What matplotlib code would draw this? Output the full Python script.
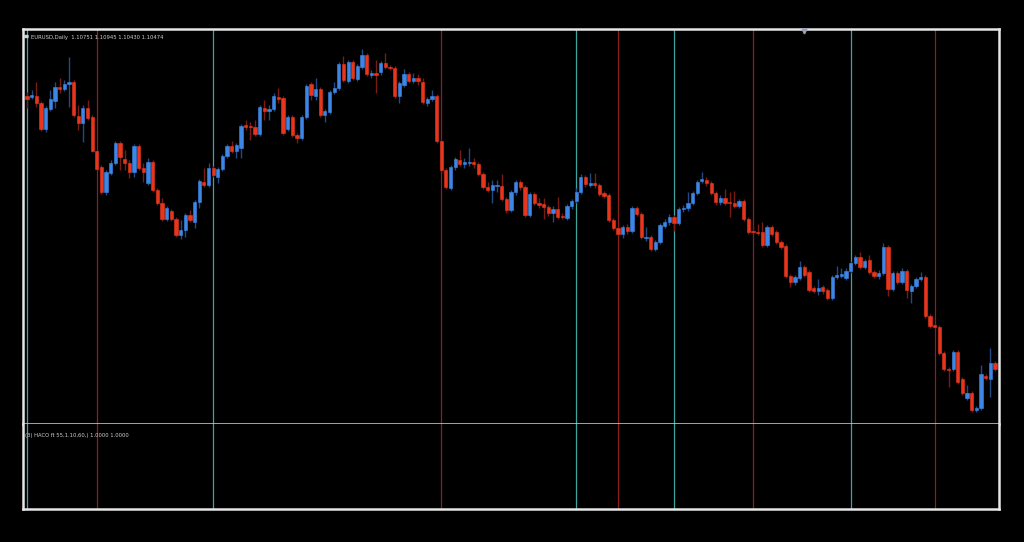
import matplotlib
matplotlib.use("Agg")
import matplotlib.pyplot as plt
import numpy as np

# EURUSD diario - velas (open, high, low, close)
opens = [
    1.1321, 1.1320, 1.1321, 1.1314, 1.1288, 1.1308, 1.1316, 1.1330, 1.1328, 1.1333,
    1.1335, 1.1301, 1.1294, 1.1309, 1.1300, 1.1266, 1.1250, 1.1225, 1.1244, 1.1254,
    1.1274, 1.1258, 1.1254, 1.1245, 1.1271, 1.1249, 1.1234, 1.1255, 1.1227, 1.1214,
    1.1198, 1.1206, 1.1198, 1.1182, 1.1187, 1.1202, 1.1195, 1.1215, 1.1235, 1.1232,
    1.1249, 1.1240, 1.1248, 1.1261, 1.1271, 1.1266, 1.1269, 1.1292, 1.1291, 1.1290,
    1.1283, 1.1309, 1.1306, 1.1308, 1.1320, 1.1319, 1.1288, 1.1300, 1.1282, 1.1279,
    1.1300, 1.1333, 1.1321, 1.1328, 1.1302, 1.1305, 1.1325, 1.1329, 1.1353, 1.1336,
    1.1355, 1.1338, 1.1350, 1.1362, 1.1342, 1.1344, 1.1345, 1.1354, 1.1350, 1.1349,
    1.1321, 1.1332, 1.1343, 1.1336, 1.1339, 1.1335, 1.1314, 1.1318, 1.1321, 1.1276,
    1.1247, 1.1229, 1.1250, 1.1257, 1.1253, 1.1254, 1.1255, 1.1253, 1.1243, 1.1230,
    1.1227, 1.1231, 1.1231, 1.1218, 1.1207, 1.1225, 1.1235, 1.1230, 1.1202, 1.1223,
    1.1214, 1.1213, 1.1210, 1.1204, 1.1208, 1.1201, 1.1199, 1.1211, 1.1216, 1.1225,
    1.1240, 1.1232, 1.1234, 1.1232, 1.1224, 1.1222, 1.1197, 1.1189, 1.1183, 1.1190,
    1.1186, 1.1209, 1.1203, 1.1179, 1.1180, 1.1168, 1.1175, 1.1191, 1.1195, 1.1200,
    1.1194, 1.1208, 1.1209, 1.1214, 1.1224, 1.1236, 1.1237, 1.1234, 1.1224, 1.1215,
    1.1219, 1.1215, 1.1214, 1.1211, 1.1216, 1.1198, 1.1186, 1.1185, 1.1185, 1.1172,
    1.1190, 1.1185, 1.1175, 1.1171, 1.1141, 1.1135, 1.1139, 1.1150, 1.1145, 1.1129,
    1.1126, 1.1130, 1.1127, 1.1119, 1.1140, 1.1141, 1.1139, 1.1146, 1.1154, 1.1160,
    1.1150, 1.1157, 1.1145, 1.1141, 1.1144, 1.1170, 1.1128, 1.1144, 1.1135, 1.1146,
    1.1126, 1.1131, 1.1138, 1.1140, 1.1101, 1.1092, 1.1090, 1.1064, 1.1048, 1.1048,
    1.1065, 1.1038, 1.1019, 1.1024, 1.1007, 1.1009, 1.1041, 1.1038, 1.1054,
]
highs = [
    1.1325, 1.1327, 1.1335, 1.1316, 1.1311, 1.1327, 1.1335, 1.1339, 1.1337, 1.1360,
    1.1337, 1.1312, 1.1312, 1.1317, 1.1302, 1.1267, 1.1252, 1.1247, 1.1257, 1.1276,
    1.1276, 1.1267, 1.1257, 1.1273, 1.1273, 1.1254, 1.1259, 1.1257, 1.1229, 1.1219,
    1.1211, 1.1208, 1.1200, 1.1197, 1.1204, 1.1207, 1.1217, 1.1238, 1.1249, 1.1254,
    1.1251, 1.1250, 1.1263, 1.1273, 1.1276, 1.1274, 1.1293, 1.1297, 1.1295, 1.1297,
    1.1312, 1.1317, 1.1312, 1.1324, 1.1329, 1.1321, 1.1302, 1.1302, 1.1284, 1.1302,
    1.1333, 1.1335, 1.1339, 1.1330, 1.1308, 1.1327, 1.1335, 1.1355, 1.1361, 1.1357,
    1.1357, 1.1353, 1.1368, 1.1364, 1.1347, 1.1357, 1.1356, 1.1364, 1.1352, 1.1351,
    1.1336, 1.1348, 1.1345, 1.1344, 1.1343, 1.1339, 1.1320, 1.1327, 1.1323, 1.1278,
    1.1249, 1.1252, 1.1260, 1.1267, 1.1259, 1.1269, 1.1259, 1.1255, 1.1245, 1.1235,
    1.1237, 1.1237, 1.1243, 1.1220, 1.1227, 1.1237, 1.1237, 1.1232, 1.1225, 1.1225,
    1.1219, 1.1219, 1.1212, 1.1211, 1.1220, 1.1204, 1.1213, 1.1218, 1.1229, 1.1243,
    1.1242, 1.1244, 1.1244, 1.1234, 1.1226, 1.1224, 1.1199, 1.1191, 1.1192, 1.1193,
    1.1211, 1.1211, 1.1205, 1.1190, 1.1182, 1.1177, 1.1194, 1.1198, 1.1203, 1.1202,
    1.1210, 1.1212, 1.1225, 1.1226, 1.1237, 1.1245, 1.1240, 1.1236, 1.1226, 1.1222,
    1.1228, 1.1225, 1.1226, 1.1218, 1.1218, 1.1200, 1.1191, 1.1193, 1.1195, 1.1192,
    1.1192, 1.1187, 1.1177, 1.1173, 1.1143, 1.1142, 1.1156, 1.1152, 1.1147, 1.1131,
    1.1138, 1.1132, 1.1129, 1.1142, 1.1151, 1.1149, 1.1149, 1.1156, 1.1162, 1.1165,
    1.1158, 1.1162, 1.1147, 1.1147, 1.1174, 1.1172, 1.1146, 1.1146, 1.1149, 1.1148,
    1.1133, 1.1140, 1.1145, 1.1142, 1.1103, 1.1094, 1.1092, 1.1066, 1.1050, 1.1067,
    1.1067, 1.1040, 1.1032, 1.1026, 1.1011, 1.1052, 1.1043, 1.1069, 1.1056,
]
lows = [
    1.1309, 1.1318, 1.1310, 1.1286, 1.1285, 1.1306, 1.1309, 1.1324, 1.1326, 1.1310,
    1.1300, 1.1287, 1.1275, 1.1297, 1.1265, 1.1246, 1.1223, 1.1222, 1.1242, 1.1252,
    1.1247, 1.1247, 1.1239, 1.1240, 1.1247, 1.1235, 1.1232, 1.1225, 1.1212, 1.1196,
    1.1196, 1.1196, 1.1180, 1.1178, 1.1180, 1.1195, 1.1189, 1.1209, 1.1230, 1.1230,
    1.1240, 1.1234, 1.1246, 1.1259, 1.1264, 1.1259, 1.1259, 1.1287, 1.1277, 1.1281,
    1.1281, 1.1297, 1.1297, 1.1306, 1.1314, 1.1282, 1.1286, 1.1280, 1.1274, 1.1277,
    1.1298, 1.1317, 1.1317, 1.1300, 1.1295, 1.1303, 1.1323, 1.1327, 1.1335, 1.1334,
    1.1337, 1.1336, 1.1348, 1.1341, 1.1339, 1.1324, 1.1342, 1.1348, 1.1347, 1.1319,
    1.1314, 1.1330, 1.1334, 1.1334, 1.1332, 1.1313, 1.1311, 1.1316, 1.1274, 1.1245,
    1.1228, 1.1227, 1.1247, 1.1251, 1.1249, 1.1251, 1.1249, 1.1241, 1.1228, 1.1225,
    1.1214, 1.1225, 1.1216, 1.1204, 1.1205, 1.1222, 1.1227, 1.1200, 1.1200, 1.1212,
    1.1209, 1.1198, 1.1201, 1.1195, 1.1198, 1.1198, 1.1197, 1.1208, 1.1214, 1.1223,
    1.1230, 1.1230, 1.1229, 1.1221, 1.1219, 1.1195, 1.1187, 1.1181, 1.1179, 1.1183,
    1.1184, 1.1201, 1.1178, 1.1176, 1.1166, 1.1166, 1.1173, 1.1189, 1.1192, 1.1186,
    1.1192, 1.1205, 1.1206, 1.1212, 1.1222, 1.1234, 1.1231, 1.1222, 1.1212, 1.1212,
    1.1212, 1.1200, 1.1209, 1.1209, 1.1196, 1.1183, 1.1183, 1.1182, 1.1170, 1.1170,
    1.1181, 1.1173, 1.1168, 1.1139, 1.1130, 1.1132, 1.1137, 1.1140, 1.1125, 1.1124,
    1.1122, 1.1123, 1.1117, 1.1117, 1.1138, 1.1139, 1.1137, 1.1144, 1.1152, 1.1148,
    1.1148, 1.1143, 1.1139, 1.1138, 1.1142, 1.1121, 1.1126, 1.1133, 1.1133, 1.1119,
    1.1114, 1.1129, 1.1136, 1.1099, 1.1089, 1.1088, 1.1062, 1.1046, 1.1030, 1.1046,
    1.1033, 1.1022, 1.1017, 1.1005, 1.1005, 1.1007, 1.1037, 1.1020, 1.1046,
]
closes = [
    1.1318, 1.1322, 1.1314, 1.1288, 1.1309, 1.1318, 1.1330, 1.1328, 1.1333, 1.1335,
    1.1302, 1.1294, 1.1309, 1.1299, 1.1266, 1.1248, 1.1225, 1.1245, 1.1254, 1.1274,
    1.1260, 1.1254, 1.1245, 1.1271, 1.1249, 1.1245, 1.1255, 1.1227, 1.1214, 1.1198,
    1.1209, 1.1198, 1.1182, 1.1187, 1.1202, 1.1197, 1.1215, 1.1236, 1.1232, 1.1249,
    1.1242, 1.1248, 1.1261, 1.1271, 1.1266, 1.1272, 1.1291, 1.1290, 1.1290, 1.1283,
    1.1310, 1.1306, 1.1308, 1.1321, 1.1318, 1.1284, 1.1300, 1.1282, 1.1279, 1.1300,
    1.1331, 1.1322, 1.1328, 1.1302, 1.1306, 1.1325, 1.1329, 1.1353, 1.1337, 1.1355,
    1.1339, 1.1351, 1.1362, 1.1343, 1.1344, 1.1342, 1.1354, 1.1350, 1.1349, 1.1321,
    1.1334, 1.1343, 1.1336, 1.1339, 1.1336, 1.1315, 1.1318, 1.1321, 1.1276, 1.1247,
    1.1230, 1.1250, 1.1258, 1.1253, 1.1255, 1.1255, 1.1253, 1.1243, 1.1230, 1.1227,
    1.1232, 1.1232, 1.1218, 1.1207, 1.1225, 1.1235, 1.1230, 1.1202, 1.1223, 1.1214,
    1.1212, 1.1210, 1.1204, 1.1208, 1.1200, 1.1200, 1.1211, 1.1216, 1.1225, 1.1240,
    1.1233, 1.1234, 1.1232, 1.1223, 1.1221, 1.1197, 1.1189, 1.1183, 1.1190, 1.1186,
    1.1209, 1.1203, 1.1180, 1.1180, 1.1168, 1.1175, 1.1192, 1.1195, 1.1200, 1.1194,
    1.1208, 1.1209, 1.1214, 1.1224, 1.1235, 1.1238, 1.1234, 1.1224, 1.1215, 1.1219,
    1.1214, 1.1214, 1.1211, 1.1216, 1.1198, 1.1185, 1.1185, 1.1184, 1.1172, 1.1190,
    1.1183, 1.1175, 1.1170, 1.1141, 1.1135, 1.1140, 1.1150, 1.1142, 1.1127, 1.1126,
    1.1129, 1.1126, 1.1119, 1.1140, 1.1142, 1.1143, 1.1146, 1.1154, 1.1160, 1.1150,
    1.1156, 1.1145, 1.1141, 1.1144, 1.1170, 1.1128, 1.1144, 1.1135, 1.1146, 1.1127,
    1.1131, 1.1138, 1.1140, 1.1101, 1.1091, 1.1090, 1.1064, 1.1048, 1.1047, 1.1065,
    1.1035, 1.1024, 1.1024, 1.1007, 1.1009, 1.1043, 1.1039, 1.1054, 1.1048,
]

# barras donde el indicador marca senal (lineas verticales)
signal_buy = [0, 40, 118, 139, 177]
signal_sell = [15, 89, 127, 156, 195]

header_text = "EURUSD,Daily  1.10751 1.10945 1.10430 1.10474"
indicator_text = "(3) HACO ft 55,1.10,60,) 1.0000 1.0000"

# colores estilo MT4
col_up = "#3d86e6"
col_down = "#e8361e"
col_up_wick = "#1f4a86"
col_down_wick = "#7a1c12"
col_buy_line = "#3fa3a0"
col_sell_line = "#8e1f1a"
frame_col = "#e6e6e6"

W, H = 1024, 542
fig = plt.figure(figsize=(W / 100, H / 100), dpi=100, facecolor="black")

left = 23 / W
width = (999 - 23) / W
ax = fig.add_axes([left, 1 - 424 / H, width, (424 - 29) / H], facecolor="black")
ax2 = fig.add_axes([left, 1 - 509 / H, width, (509 - 424) / H], facecolor="black")

o = np.array(opens)
h = np.array(highs)
l = np.array(lows)
c = np.array(closes)
x = np.arange(len(o))
up = c >= o

# lineas verticales de senal en ambos paneles
for a in (ax, ax2):
    for i in signal_buy:
        a.axvline(i, color=col_buy_line, lw=0.9, zorder=1)
    for i in signal_sell:
        a.axvline(i, color=col_sell_line, lw=0.9, zorder=1)

# mechas
ax.vlines(x[up], l[up], h[up], color=col_up_wick, lw=1.0, zorder=2)
ax.vlines(x[~up], l[~up], h[~up], color=col_down_wick, lw=1.0, zorder=2)

# cuerpos
body = np.abs(c - o)
bottom = np.minimum(o, c)
ax.bar(x[up], body[up], bottom=bottom[up], width=0.7, color=col_up,
       edgecolor=col_up, linewidth=0.4, zorder=3)
ax.bar(x[~up], body[~up], bottom=bottom[~up], width=0.7, color=col_down,
       edgecolor=col_down, linewidth=0.4, zorder=3)

ax.set_xlim(-0.86, 208.85)
ax.set_ylim(1.0993, 1.1388)
ax2.set_xlim(-0.86, 208.85)
ax2.set_ylim(0, 1)

# marco blanco
for a in (ax, ax2):
    a.set_xticks([])
    a.set_yticks([])
    for s in a.spines.values():
        s.set_color(frame_col)
        s.set_linewidth(1.8)
# separador entre paneles
ax.spines["bottom"].set_linewidth(1.1)
ax.spines["bottom"].set_color("#cfcfcf")
ax.spines["bottom"].set_zorder(6)
ax2.spines["top"].set_visible(False)

ax.text(0.008, 0.985, header_text, transform=ax.transAxes, color="#d0d0d0",
        fontsize=3.8, va="top", ha="left")
ax.plot([0.0035], [0.982], marker="$\u2261$", color="#d0d0d0", markersize=3,
        transform=ax.transAxes, clip_on=False)
ax2.text(0.002, 0.9, indicator_text, transform=ax2.transAxes, color="#d0d0d0",
         fontsize=3.8, va="top", ha="left")

# marcador de desplazamiento del grafico
ax.plot([0.8], [0.995], marker="v", color="#9aa0b8", markersize=3.5,
        transform=ax.transAxes, clip_on=False, zorder=5)

fig.savefig("out.png", dpi=100, facecolor="black")
